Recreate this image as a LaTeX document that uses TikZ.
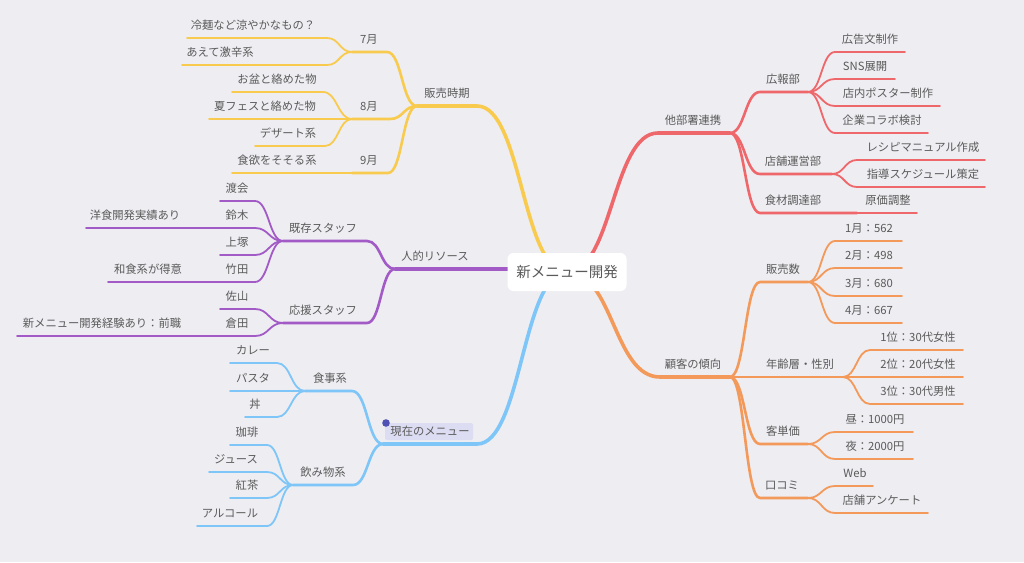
\documentclass[tikz,border=0pt]{standalone}
\usepackage{fontspec}
\setmainfont{Noto Sans CJK JP}
\usetikzlibrary{calc}
\definecolor{bg}{HTML}{EEEDF2}
\definecolor{txt}{HTML}{5A5A5A}
\definecolor{yel}{HTML}{F8CB4F}
\definecolor{pur}{HTML}{A25AC6}
\definecolor{blu}{HTML}{7EC5F8}
\definecolor{redc}{HTML}{EE676B}
\definecolor{org}{HTML}{F39A5B}
\definecolor{hil}{HTML}{DCDCF3}
\definecolor{dot}{HTML}{4E50B4}
\newcommand\mmitem[6]{%
  \coordinate (#1-l) at (#2,#4);
  \coordinate (#1-r) at (#3,#4);
  \node[lbl] (#1) at (#5,#4-8.5) {#6};}
\begin{document}
\begin{tikzpicture}[x=1pt,y=-1pt,line cap=round,line join=round,
  lbl/.style={anchor=base,inner sep=0pt,text=txt,font=\fontsize{11.3}{13}\selectfont},
  hs/.style={to path={let \p1=(\tikztostart),\p2=(\tikztotarget),\n1={0.5*(\x1+\x2)} in .. controls ({\n1*1pt},\y1) and ({\n1*1pt},\y2) .. (\tikztotarget)}},
  w1/.style={line width=3.6pt},
  w2/.style={line width=2.6pt},
  w3/.style={line width=1.8pt}]
\useasboundingbox (0,0) rectangle (1024,562);
\fill[bg] (0,0) rectangle (1024,562);
\coordinate (ctr) at (567,272);
% highlight of current menu
\fill[hil,rounded corners=1.5pt] (385,423) rectangle (473,440);
% ---------- yellow
\mmitem{sale}{417}{477}{106}{447}{販売時期}
\mmitem{m7}{352}{387}{52}{369}{7月}
\mmitem{m8}{352}{390}{119}{369}{8月}
\mmitem{m9}{352}{388}{173}{369}{9月}
\mmitem{y1}{187}{327}{38}{253}{冷麺など涼やかなもの？}
\mmitem{y2}{182}{327}{65}{220}{あえて激辛系}
\mmitem{y3}{232}{323}{92}{277}{お盆と絡めた物}
\mmitem{y4}{209}{352}{119}{265}{夏フェスと絡めた物}
\mmitem{y5}{255}{325}{146}{288}{デザート系}
\mmitem{y6}{232}{352}{173}{277}{食欲をそそる系}
% ---------- purple
\mmitem{hr}{395}{508}{269}{435}{人的リソース}
\mmitem{ex}{283}{367}{241}{323}{既存スタッフ}
\mmitem{sp}{283}{367}{323}{323}{応援スタッフ}
\mmitem{p1}{220}{255}{201}{237}{渡会}
\mmitem{p2}{220}{255}{228}{237}{鈴木}
\mmitem{p2a}{86}{220}{228}{135}{洋食開発実績あり}
\mmitem{p3}{220}{255}{255}{237}{上塚}
\mmitem{p4}{220}{255}{282}{237}{竹田}
\mmitem{p4a}{108}{220}{282}{148}{和食系が得意}
\mmitem{p5}{220}{255}{309}{237}{佐山}
\mmitem{p6}{220}{255}{336}{237}{倉田}
\mmitem{p6a}{17}{220}{336}{102}{新メニュー開発経験あり：前職}
% ---------- blue
\mmitem{cur}{383}{477}{444}{430}{現在のメニュー}
\mmitem{meal}{305}{352}{391}{330}{食事系}
\mmitem{drk}{293}{353}{485}{323}{飲み物系}
\mmitem{b1}{230}{277}{363}{253}{カレー}
\mmitem{b2}{230}{305}{391}{253}{パスタ}
\mmitem{b3}{245}{277}{417}{255}{丼}
\mmitem{b4}{230}{267}{445}{247}{珈琲}
\mmitem{b5}{209}{267}{472}{236}{ジュース}
\mmitem{b6}{230}{267}{498}{247}{紅茶}
\mmitem{b7}{197}{267}{526}{230}{アルコール}
% ---------- red
\mmitem{co}{658}{730}{133}{693}{他部署連携}
\mmitem{pr}{760}{808}{92}{783}{広報部}
\mmitem{st}{760}{832}{174}{793}{店舗運営部}
\mmitem{fd}{760}{857}{213}{793}{食材調達部}
\mmitem{r1}{835}{905}{52}{870}{広告文制作}
\mmitem{r2}{835}{895}{79}{865}{SNS展開}
\mmitem{r3}{835}{940}{106}{888}{店内ポスター制作}
\mmitem{r4}{835}{928}{133}{882}{企業コラボ検討}
\mmitem{r5}{857}{985}{160}{923}{レシピマニュアル作成}
\mmitem{r6}{857}{985}{187}{923}{指導スケジュール策定}
\mmitem{r7}{857}{917}{213}{888}{原価調整}
% ---------- orange
\mmitem{cu}{660}{730}{377}{693}{顧客の傾向}
\mmitem{sn}{760}{808}{282}{783}{販売数}
\mmitem{ag}{760}{843}{377}{800}{年齢層・性別}
\mmitem{pc}{760}{808}{444}{783}{客単価}
\mmitem{wm}{760}{808}{498}{782}{口コミ}
\mmitem{o1}{835}{902}{241}{869}{1月：562}
\mmitem{o2}{835}{902}{268}{869}{2月：498}
\mmitem{o3}{835}{902}{296}{869}{3月：680}
\mmitem{o4}{835}{902}{323}{869}{4月：667}
\mmitem{o5}{870}{963}{350}{918}{1位：30代女性}
\mmitem{o6}{870}{963}{377}{918}{2位：20代女性}
\mmitem{o7}{870}{963}{404}{918}{3位：30代男性}
\mmitem{o8}{835}{913}{432}{875}{昼：1000円}
\mmitem{o9}{835}{913}{459}{875}{夜：2000円}
\mmitem{o10}{835}{873}{486}{855}{Web}
\mmitem{o11}{835}{928}{513}{882}{店舗アンケート}
% ================= connectors
% yellow
\draw[yel,w1] (sale-l) -- (sale-r) to[hs] (ctr);
\foreach \c in {m7,m8,m9}{\draw[yel,w2] (\c-l) -- (\c-r) to[hs] (sale-l);}
\foreach \c in {y1,y2}{\draw[yel,w3] (\c-l) -- (\c-r) to[hs] (m7-l);}
\foreach \c in {y3,y5}{\draw[yel,w3] (\c-l) -- (\c-r) to[hs] (m8-l);}
\draw[yel,w3] (y4-l) -- (y4-r) -- (m8-l);
\draw[yel,w3] (y6-l) -- (y6-r) -- (m9-l);
% purple
\draw[pur,w1] (hr-l) -- (hr-r) to[hs] (ctr);
\foreach \c in {ex,sp}{\draw[pur,w2] (\c-l) -- (\c-r) to[hs] (hr-l);}
\foreach \c in {p1,p2,p3,p4}{\draw[pur,w3] (\c-l) -- (\c-r) to[hs] (ex-l);}
\foreach \c in {p5,p6}{\draw[pur,w3] (\c-l) -- (\c-r) to[hs] (sp-l);}
\draw[pur,w3] (p2a-l) -- (p2a-r) -- (p2-l);
\draw[pur,w3] (p4a-l) -- (p4a-r) -- (p4-l);
\draw[pur,w3] (p6a-l) -- (p6a-r) -- (p6-l);
% blue
\draw[blu,w1] (cur-l) -- (cur-r) to[hs] (ctr);
\foreach \c in {meal,drk}{\draw[blu,w2] (\c-l) -- (\c-r) to[hs] (cur-l);}
\foreach \c in {b1,b2,b3}{\draw[blu,w3] (\c-l) -- (\c-r) to[hs] (meal-l);}
\foreach \c in {b4,b5,b6,b7}{\draw[blu,w3] (\c-l) -- (\c-r) to[hs] (drk-l);}
% red
\draw[redc,w1] (ctr) to[hs] (co-l) -- (co-r);
\foreach \c in {pr,st,fd}{\draw[redc,w2] (co-r) to[hs] (\c-l) -- (\c-r);}
\foreach \c in {r1,r2,r3,r4}{\draw[redc,w3] (pr-r) to[hs] (\c-l) -- (\c-r);}
\foreach \c in {r5,r6}{\draw[redc,w3] (st-r) to[hs] (\c-l) -- (\c-r);}
\draw[redc,w3] (fd-r) -- (r7-l) -- (r7-r);
% orange
\draw[org,w1] (ctr) to[hs] (cu-l) -- (cu-r);
\foreach \c in {sn,ag,pc,wm}{\draw[org,w2] (cu-r) to[hs] (\c-l) -- (\c-r);}
\foreach \c in {o1,o2,o3,o4}{\draw[org,w3] (sn-r) to[hs] (\c-l) -- (\c-r);}
\foreach \c in {o5,o6,o7}{\draw[org,w3] (ag-r) to[hs] (\c-l) -- (\c-r);}
\foreach \c in {o8,o9}{\draw[org,w3] (pc-r) to[hs] (\c-l) -- (\c-r);}
\foreach \c in {o10,o11}{\draw[org,w3] (wm-r) to[hs] (\c-l) -- (\c-r);}
% blue dot
\fill[dot] (386,423) circle (3.8);
% root
\node[fill=white,rounded corners=6pt,minimum width=119pt,minimum height=38pt,inner sep=0pt,
  text=txt,font=\fontsize{14.5}{17}\selectfont] (root) at (ctr) {新メニュー開発};
\end{tikzpicture}
\end{document}
